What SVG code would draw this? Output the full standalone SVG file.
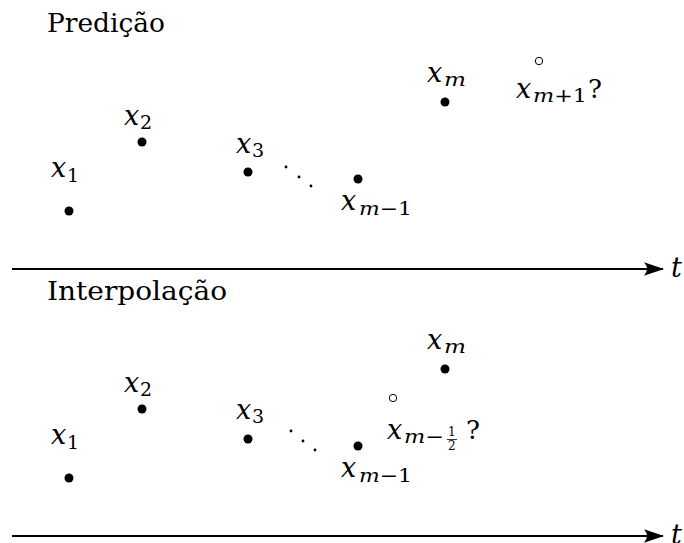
<svg xmlns="http://www.w3.org/2000/svg" width="684" height="543" viewBox="0 0 684 543">
<style>
text{font-family:"DejaVu Serif","Liberation Serif",serif;fill:#000}
.title{font-size:26px}
.mx{font-size:27px;font-style:italic}
.sub{font-size:19px;font-style:italic}
.subr{font-size:19px}
.q{font-size:26px}
.fr{font-size:12px}
.pt{fill:#000}
.open{fill:#fff;stroke:#000;stroke-width:1}
.ell{fill:#000}
.axis{stroke:#000;stroke-width:2;fill:none}
</style>
<defs>
<marker id="arr" markerUnits="userSpaceOnUse" markerWidth="22" markerHeight="16" refX="19" refY="7.5" orient="auto">
<path d="M0,0.8 Q6,7.5 0,14.2 L20,7.5 Z" fill="#000"/>
</marker>
</defs>
<g id="connectors">
<line class="axis" x1="12" y1="269" x2="663" y2="269" marker-end="url(#arr)"/>
<line class="axis" x1="12" y1="536" x2="663" y2="536" marker-end="url(#arr)"/>
</g>
<g id="axis-label-top"><text class="mx" x="671" y="277">t</text></g>
<g id="axis-label-bottom"><text class="mx" x="671" y="544">t</text></g>

<g id="title-top"><text class="title" x="47" y="32" textLength="118" lengthAdjust="spacingAndGlyphs">Predição</text></g>
<g id="title-bottom"><text class="title" x="47" y="300" textLength="180" lengthAdjust="spacingAndGlyphs">Interpolação</text></g>

<g id="p1-top"><circle class="pt" cx="69" cy="211" r="4.5"/><text class="mx" x="51" y="177">x</text><text class="subr" x="67" y="182">1</text></g>
<g id="p2-top"><circle class="pt" cx="142" cy="142" r="4.5"/><text class="mx" x="124" y="125">x</text><text class="subr" x="140" y="129">2</text></g>
<g id="p3-top"><circle class="pt" cx="248" cy="172" r="4.5"/><text class="mx" x="236" y="153">x</text><text class="subr" x="252" y="157">3</text></g>
<g id="dots-top"><circle class="ell" cx="286" cy="167" r="1.4"/><circle class="ell" cx="299" cy="177" r="1.4"/><circle class="ell" cx="311" cy="186" r="1.4"/></g>
<g id="pm1-top"><circle class="pt" cx="358" cy="179" r="4.5"/><text class="mx" x="341" y="210">x</text><text class="sub" x="359" y="215" textLength="53" lengthAdjust="spacingAndGlyphs">m<tspan font-style="normal">−1</tspan></text></g>
<g id="pm-top"><circle class="pt" cx="445" cy="102" r="4.5"/><text class="mx" x="427" y="82">x</text><text class="sub" x="444" y="86" textLength="22" lengthAdjust="spacingAndGlyphs">m</text></g>
<g id="pm+1-top"><circle class="open" cx="539" cy="61" r="3.7"/><text class="mx" x="516" y="98">x</text><text class="sub" x="533" y="102" textLength="54" lengthAdjust="spacingAndGlyphs">m<tspan font-style="normal">+1</tspan></text><text class="q" x="588" y="98">?</text></g>

<g id="p1-bot"><circle class="pt" cx="69" cy="478" r="4.5"/><text class="mx" x="51" y="444">x</text><text class="subr" x="67" y="449">1</text></g>
<g id="p2-bot"><circle class="pt" cx="142" cy="409" r="4.5"/><text class="mx" x="124" y="392">x</text><text class="subr" x="140" y="396">2</text></g>
<g id="p3-bot"><circle class="pt" cx="248" cy="439" r="4.5"/><text class="mx" x="236" y="419">x</text><text class="subr" x="252" y="423">3</text></g>
<g id="dots-bot"><circle class="ell" cx="291" cy="431" r="1.4"/><circle class="ell" cx="303" cy="441" r="1.4"/><circle class="ell" cx="315" cy="450" r="1.4"/></g>
<g id="pm1-bot"><circle class="pt" cx="358" cy="446" r="4.5"/><text class="mx" x="341" y="477">x</text><text class="sub" x="359" y="482" textLength="53" lengthAdjust="spacingAndGlyphs">m<tspan font-style="normal">−1</tspan></text></g>
<g id="pm-bot"><circle class="pt" cx="445" cy="369" r="4.5"/><text class="mx" x="427" y="349">x</text><text class="sub" x="444" y="353" textLength="22" lengthAdjust="spacingAndGlyphs">m</text></g>
<g id="pmhalf-bot"><circle class="open" cx="393" cy="398" r="3.7"/><text class="mx" x="387" y="439">x</text><text class="sub" x="404" y="443" textLength="40" lengthAdjust="spacingAndGlyphs">m<tspan font-style="normal">−</tspan></text>
<text class="fr" x="448" y="436">1</text><line x1="447" y1="439.5" x2="457" y2="439.5" stroke="#000" stroke-width="0.8"/><text class="fr" x="448" y="450">2</text>
<text class="q" x="466" y="439">?</text></g>
</svg>
